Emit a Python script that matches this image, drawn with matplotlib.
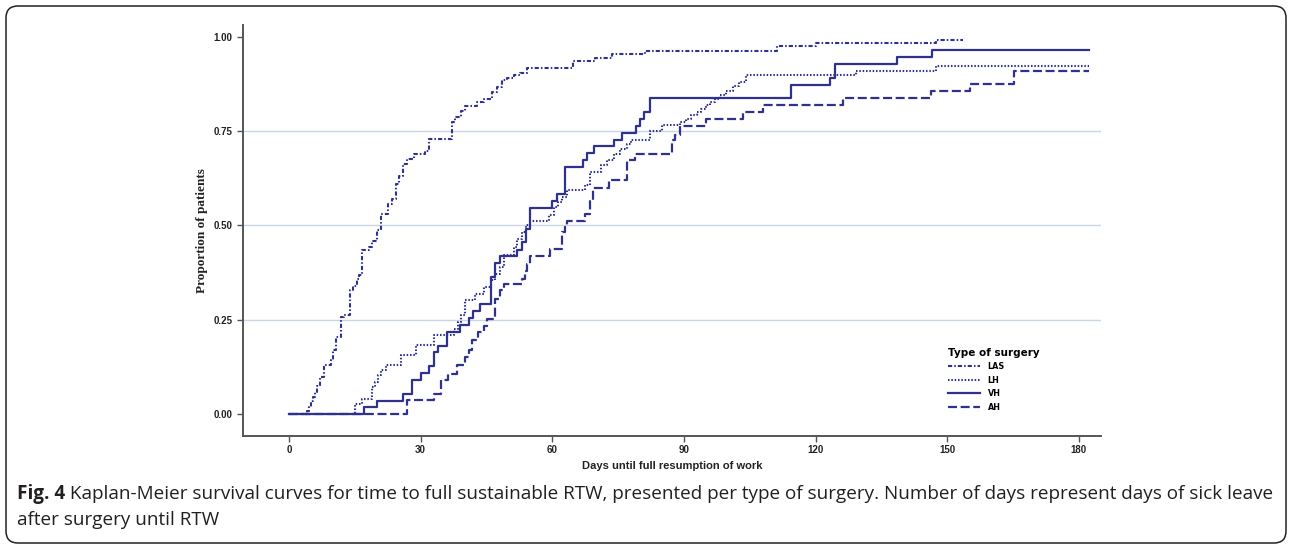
import matplotlib
matplotlib.use("Agg")
import matplotlib.pyplot as plt
from matplotlib.patches import FancyBboxPatch

plt.rcParams['lines.scale_dashes'] = False

# Kaplan-Meier step data: event day -> cumulative proportion RTW
las_days = [0, 4, 4.5, 5, 5.5, 6, 6.5, 7, 8, 9.5, 10, 10.7, 11.8, 12.5, 14, 14.5, 15.5, 16,
            16.7, 18.3, 19, 20, 21, 22.5, 23.5, 24.3, 25.1, 26, 27, 28.5, 31, 32, 37.2, 37.9,
            39.1, 40.2, 42.9, 44.4, 46.3, 47.4, 48.5, 49.7, 51.2, 52.7, 54.2, 64.8, 69.8,
            73.6, 81.1, 111.3, 120.2, 147.4, 153.5]
las_prop = [0, 0.010, 0.020, 0.035, 0.046, 0.060, 0.075, 0.099, 0.130, 0.145, 0.169, 0.204,
            0.257, 0.262, 0.328, 0.340, 0.359, 0.370, 0.434, 0.443, 0.460, 0.487, 0.531,
            0.557, 0.570, 0.610, 0.632, 0.663, 0.676, 0.690, 0.698, 0.729, 0.774, 0.787,
            0.804, 0.815, 0.826, 0.835, 0.853, 0.866, 0.884, 0.890, 0.897, 0.903, 0.917,
            0.934, 0.944, 0.954, 0.963, 0.974, 0.982, 0.992, 0.992]

lh_days = [0, 15, 16.7, 19, 19.5, 20.2, 21, 22, 25.5, 29, 33, 37.6, 38.5, 39.1, 40.2, 42.5,
           44.5, 46, 47, 48, 49, 51.2, 52, 53, 54, 55, 59.2, 60.5, 61.2, 62.2, 63.3, 67.5,
           68.5, 71, 72.5, 74, 75.5, 77, 78, 82.3, 84.9, 89.1, 90.5, 91.7, 93, 94, 95,
           95.9, 97, 98.2, 99.5, 101.2, 102.5, 104.2, 129.2, 147.4, 182.3]
lh_prop = [0, 0.026, 0.040, 0.072, 0.086, 0.103, 0.116, 0.130, 0.156, 0.183, 0.209, 0.227,
           0.245, 0.262, 0.303, 0.319, 0.337, 0.355, 0.372, 0.390, 0.421, 0.443, 0.465,
           0.483, 0.500, 0.513, 0.528, 0.548, 0.562, 0.575, 0.593, 0.606, 0.641, 0.659,
           0.672, 0.690, 0.703, 0.715, 0.725, 0.751, 0.765, 0.773, 0.782, 0.791, 0.800,
           0.809, 0.818, 0.827, 0.835, 0.844, 0.857, 0.870, 0.880, 0.897, 0.908, 0.923, 0.923]

vh_days = [0, 17, 20, 26, 28, 30, 32, 33, 34, 36, 39, 41, 42, 43.5, 46, 47, 48, 52, 53, 54,
           55, 60, 61, 63, 67, 68, 69.5, 74, 76, 79, 80, 81, 82.3, 114.5, 123.3, 124.4,
           138.5, 146.5, 182.3]
vh_prop = [0, 0.018, 0.036, 0.055, 0.091, 0.109, 0.127, 0.164, 0.182, 0.218, 0.236, 0.255,
           0.273, 0.291, 0.364, 0.400, 0.418, 0.436, 0.455, 0.491, 0.545, 0.564, 0.582,
           0.655, 0.673, 0.691, 0.709, 0.727, 0.745, 0.764, 0.782, 0.800, 0.836, 0.873,
           0.891, 0.927, 0.945, 0.964, 0.964]

ah_days = [0, 26.8, 33, 34.7, 36.2, 38.3, 40.2, 41, 41.7, 43, 44.5, 45.2, 47, 48, 48.9,
           53.1, 53.7, 54.2, 55, 59.4, 62.2, 63, 63.3, 67.5, 68.5, 69.2, 73, 77, 78.8, 87.2,
           88, 89.1, 95.1, 103.5, 108, 126.2, 146.3, 155.3, 165.2, 182.3]
ah_prop = [0, 0.037, 0.055, 0.090, 0.108, 0.130, 0.152, 0.170, 0.196, 0.218, 0.235, 0.253,
           0.306, 0.328, 0.346, 0.359, 0.380, 0.399, 0.419, 0.438, 0.483, 0.495, 0.513,
           0.531, 0.565, 0.600, 0.619, 0.672, 0.690, 0.725, 0.740, 0.762, 0.782, 0.800,
           0.818, 0.837, 0.856, 0.875, 0.910, 0.910]

groups = ["LAS", "LH", "VH", "AH"]
yticks = [0, 0.25, 0.5, 0.75, 1.0]
xticks = [0, 30, 60, 90, 120, 150, 180]

navy = "#2e3190"
styles = {
    "LAS": dict(ls=(0, (3, 1.5, 1.1, 1.5)), lw=1.5),
    "LH": dict(ls=(0, (1.1, 1.3)), lw=1.5),
    "VH": dict(ls="-", lw=1.6),
    "AH": dict(ls=(0, (6.5, 2.6)), lw=1.6),
}
series = {"LAS": (las_days, las_prop), "LH": (lh_days, lh_prop),
          "VH": (vh_days, vh_prop), "AH": (ah_days, ah_prop)}

fig = plt.figure(figsize=(12.92, 5.48), dpi=100)
ax = fig.add_axes([0.188, 0.204, 0.664, 0.750])

for g in groups:
    d, p = series[g]
    ax.step(d, p, where="post", color=navy, label=g, **styles[g])

ax.set_xlim(-10.5, 185)
ax.set_ylim(-0.058, 1.03)
for yv in [0.25, 0.5, 0.75]:
    ax.axhline(yv, color="#c9d5ea", lw=1.0, zorder=0)

ax.spines["top"].set_visible(False)
ax.spines["right"].set_visible(False)
for s in ["left", "bottom"]:
    ax.spines[s].set_color("#555555")
    ax.spines[s].set_linewidth(1.4)

sans = ["Liberation Sans", "DejaVu Sans"]
ax.set_yticks(yticks)
ax.set_yticklabels(["%.2f" % v for v in yticks], fontsize=7, fontweight="bold", family=sans)
ax.set_xticks(xticks)
ax.set_xticklabels([str(v) for v in xticks], fontsize=7, fontweight="bold", family=sans)
ax.tick_params(axis="both", direction="out", length=4, width=1.0, color="#555555",
               labelcolor="#222222")
ax.tick_params(axis="x", pad=2)

ax.set_xlabel("Days until full resumption of work", fontsize=8, fontweight="bold",
              family=sans, labelpad=5, color="#222222")
ax.set_ylabel("Proportion of patients", fontsize=9.5, fontweight="bold",
              family=["Liberation Serif", "DejaVu Serif"], labelpad=4, color="#222222")

leg = ax.legend(title="Type of surgery", loc="upper left", bbox_to_anchor=(0.822, 0.215),
                frameon=False, prop=dict(size=5.8, weight="bold"), handlelength=4.0,
                labelspacing=0.55, handletextpad=0.9, borderaxespad=0, borderpad=0)
leg.get_title().set_fontsize(7.5)
leg.get_title().set_fontweight("bold")
leg._legend_box.align = "left"

# rounded frame around figure + caption
border = FancyBboxPatch((0.06, 0.05), 12.8, 5.37, boxstyle="round,pad=0,rounding_size=0.12",
                        transform=fig.dpi_scale_trans, fill=False, edgecolor="#222222",
                        lw=1.1)
fig.patches.append(border)

cap_font = ["Open Sans", "DejaVu Sans"]
cap_size = 13.6
t = fig.text(17 / 1292, 1 - 494 / 548, "Fig. 4", fontsize=cap_size, fontweight="bold",
             family=cap_font, color="#231f20", va="center")
ax.annotate(" Kaplan-Meier survival curves for time to full sustainable RTW, presented per "
            "type of surgery. Number of days represent days of sick leave",
            xy=(1, 0.5), xycoords=t, va="center", ha="left", fontsize=cap_size,
            family=cap_font, color="#231f20", annotation_clip=False)
fig.text(17 / 1292, 1 - 520 / 548, "after surgery until RTW", fontsize=cap_size,
         family=cap_font, color="#231f20", va="center")

fig.savefig("out.png", dpi=100)
